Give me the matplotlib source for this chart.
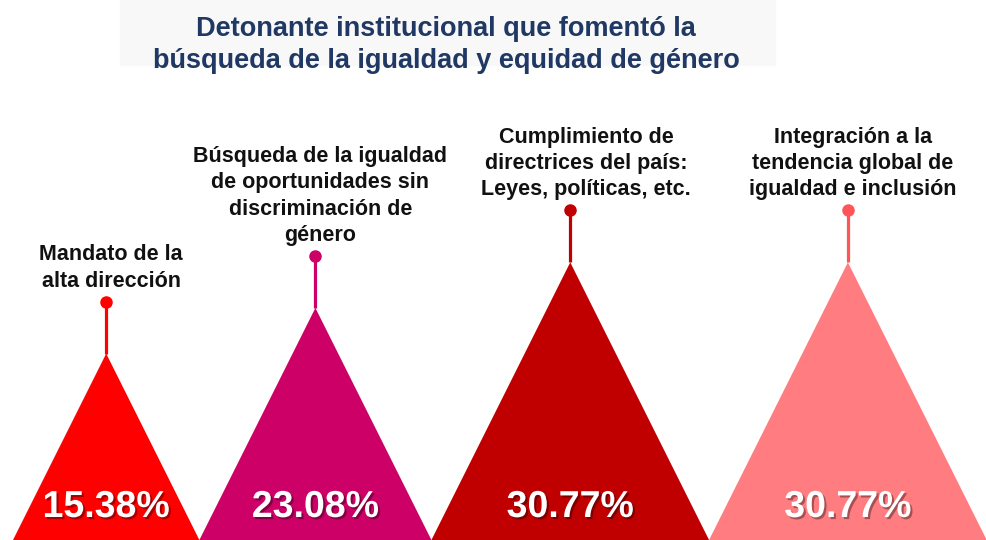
import matplotlib.pyplot as plt
import matplotlib.patheffects as pe
from matplotlib.patches import Polygon, Rectangle

plt.rcParams['font.family'] = ['Liberation Sans', 'DejaVu Sans']

# datos
categorias = [
    "Mandato de la\nalta dirección",
    "Búsqueda de la igualdad\nde oportunidades sin\ndiscriminación de\ngénero",
    "Cumplimiento de\ndirectrices del país:\nLeyes, políticas, etc.",
    "Integración a la\ntendencia global de\nigualdad e inclusión",
]
porcentajes = [15.38, 23.08, 30.77, 30.77]
colores = ["#FF0000", "#CC0066", "#C00000", "#FF7C80"]
colores_tallo = ["#FF0000", "#CC0066", "#C00000", "#FF5458"]
titulo = "Detonante institucional que fomentó la\nbúsqueda de la igualdad y equidad de género"

W, H = 986, 540
PX = 5.93       # pixeles por punto porcentual
Y0 = -16.05     # valor en el borde inferior de la imagen
PENDIENTE = 0.5  # media base / altura
TALLO = 52 / PX

fig = plt.figure(figsize=(W / 100, H / 100), dpi=100)
fig.patches.append(Rectangle((120 / W, 1 - 65 / H), 655 / W, 65 / H,
                             transform=fig.transFigure, color="#F8F8F8", zorder=0))
fig.text(446 / W, 1 - 45 / H, titulo, ha="center", va="center", fontsize=19.5,
         fontweight="bold", color="#203864", linespacing=1.27,
         family=['Liberation Sans Narrow', 'Liberation Sans', 'DejaVu Sans'])

ax = fig.add_axes([0, 0, 1, 1])
ax.set_xlim(0, W / PX)
ax.set_ylim(Y0, Y0 + H / PX)
ax.axis("off")
ax.patch.set_alpha(0)

izq = 13 / PX
fondo = Y0 - 20
for i, (cat, v, col, colt) in enumerate(zip(categorias, porcentajes, colores, colores_tallo)):
    media = PENDIENTE * (v - Y0)
    cx = izq + media
    m2 = PENDIENTE * (v - fondo)
    ax.add_patch(Polygon([(cx - m2, fondo), (cx, v), (cx + m2, fondo)],
                         closed=True, color=col, lw=0, zorder=2))
    ax.plot([cx, cx], [v, v + TALLO], color=colt, lw=2.3, zorder=3,
            solid_capstyle="butt")
    ax.plot(cx, v + TALLO, "o", color=colt, ms=8, zorder=4)
    dx = 16 / PX if i == 2 else 5 / PX
    ax.text(cx + dx, v + TALLO + 10 / PX, cat, ha="center", va="bottom",
            fontsize=15.5, fontweight="bold", color="#111111", linespacing=1.33)
    ax.text(cx, Y0 + 33 / PX, f"{v:.2f}%", ha="center", va="center",
            fontsize=27, fontweight="bold", color="white", zorder=5,
            path_effects=[pe.withSimplePatchShadow(offset=(1.5, -1.5),
                                                   shadow_rgbFace="black", alpha=0.35)])
    izq = cx + media

fig.savefig("out.png", dpi=100)
